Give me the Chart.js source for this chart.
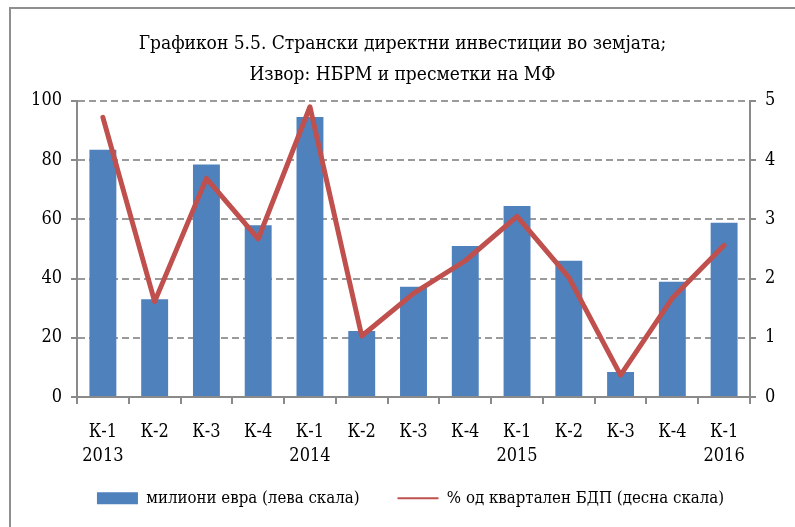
<!DOCTYPE html>
<html>
<head>
<meta charset="utf-8">
<script src="https://cdn.jsdelivr.net/npm/chart.js@4"></script>
<style>
html,body{margin:0;padding:0;background:#fff;overflow:hidden;}
#wrap{position:relative;width:795px;height:527px;}
#frame{position:absolute;left:9px;top:7px;width:820px;height:560px;border-left:2px solid #8f8f8f;border-top:2px solid #8f8f8f;pointer-events:none;}
canvas{position:absolute;left:0;top:0;}
</style>
</head>
<body>
<div id="wrap"><canvas id="c" width="795" height="527"></canvas><div id="frame"></div></div>
<script>
const quarters = ['К-1','К-2','К-3','К-4','К-1','К-2','К-3','К-4','К-1','К-2','К-3','К-4','К-1'];
const years = ['2013','','','','2014','','','','2015','','','','2016'];
const fdiMillionEur = [83.5, 33, 78.5, 58, 94.5, 22.3, 37.2, 51, 64.5, 46, 8.4, 38.9, 58.8];
const fdiPctGdp = [4.72, 1.61, 3.69, 2.67, 4.9, 1.03, 1.75, 2.3, 3.05, 2.02, 0.37, 1.67, 2.56];
const leftTicks = [0, 20, 40, 60, 80, 100];
const rightTicks = [0, 1, 2, 3, 4, 5];
const titleLines = ['Графикон 5.5. Странски директни инвестиции во земјата;', 'Извор: НБРМ и пресметки на МФ'];
const seriesNames = ['милиони евра (лева скала)', '% од квартален БДП (десна скала)'];

const FONT = "'DejaVu Serif Condensed', 'Liberation Serif', serif";
const GRID = '#9a9a9a';
const AXIS = '#8a8a8a';

const legendPlace = {
  id: 'legendPlace',
  afterLayout(chart) {
    const lg = chart.legend;
    if (!lg) return;
    const h = lg.height;
    lg.top = 452;
    lg.bottom = 452 + h;
    lg.left += 8;
    lg.right += 8;
  }
};

new Chart(document.getElementById('c'), {
  data: {
    labels: quarters.map((q, i) => [q, years[i]]),
    datasets: [
      {
        type: 'bar', label: seriesNames[0], data: fdiMillionEur, yAxisID: 'y',
        backgroundColor: '#4F81BD', borderWidth: 0, order: 1,
        barPercentage: 0.52, categoryPercentage: 1, pointStyle: 'rect'
      },
      {
        type: 'line', label: seriesNames[1], data: fdiPctGdp, yAxisID: 'y1',
        borderColor: '#C0504D', backgroundColor: '#C0504D', borderWidth: 5,
        pointRadius: 0, tension: 0, order: 0,
        borderJoinStyle: 'round', borderCapStyle: 'round', pointStyle: 'line'
      }
    ]
  },
  plugins: [legendPlace],
  options: {
    responsive: false,
    animation: false,
    layout: { padding: { left: 10, right: 0, top: 0, bottom: 0 } },
    plugins: {
      tooltip: { enabled: false },
      title: {
        display: true, text: titleLines, color: '#000',
        font: { family: FONT, size: 19, weight: 'normal', lineHeight: 1.6 },
        padding: { top: 29, bottom: 11 }
      },
      legend: {
        position: 'bottom',
        maxHeight: 60,
        labels: {
          color: '#000', font: { family: FONT, size: 16.7 },
          usePointStyle: true, pointStyleWidth: 41, boxHeight: 12, padding: 38,
          sort: (a, b) => a.datasetIndex - b.datasetIndex,
          generateLabels: (chart) => {
            const items = Chart.defaults.plugins.legend.labels.generateLabels(chart);
            items.forEach(it => {
              if (it.datasetIndex === 0) { it.pointStyle = 'rect'; it.fillStyle = '#4F81BD'; it.strokeStyle = '#4F81BD'; it.lineWidth = 0; }
              else { it.pointStyle = 'line'; it.strokeStyle = '#C0504D'; it.lineWidth = 2; }
            });
            return items;
          }
        }
      }
    },
    scales: {
      x: {
        offset: true,
        grid: { offset: true, drawOnChartArea: false, drawTicks: true, tickLength: 7, color: AXIS, lineWidth: 2 },
        border: { display: true, color: AXIS, width: 2 },
        ticks: { color: '#000', font: { family: FONT, size: 18, lineHeight: 1.3 }, padding: 17, maxRotation: 0, autoSkip: false },
        afterFit: (s) => { s.height = 70; }
      },
      y: {
        position: 'left', min: 0, max: 100,
        afterBuildTicks: (s) => { s.ticks = leftTicks.map(v => ({ value: v })); },
        grid: { color: GRID, lineWidth: 2, drawTicks: true, tickLength: 6, tickColor: AXIS },
        border: { display: true, color: AXIS, width: 2, dash: [7, 4] },
        ticks: { color: '#000', font: { family: FONT, size: 18 }, padding: 9 },
        afterFit: (s) => { s.width = 67; }
      },
      y1: {
        position: 'right', min: 0, max: 5,
        afterBuildTicks: (s) => { s.ticks = rightTicks.map(v => ({ value: v })); },
        grid: { drawOnChartArea: false, drawTicks: true, tickLength: 6, color: AXIS, lineWidth: 2 },
        border: { display: true, color: AXIS, width: 2 },
        ticks: { color: '#000', font: { family: FONT, size: 18 }, padding: 9 },
        afterFit: (s) => { s.width = 45; }
      }
    }
  }
});
</script>
</body>
</html>
